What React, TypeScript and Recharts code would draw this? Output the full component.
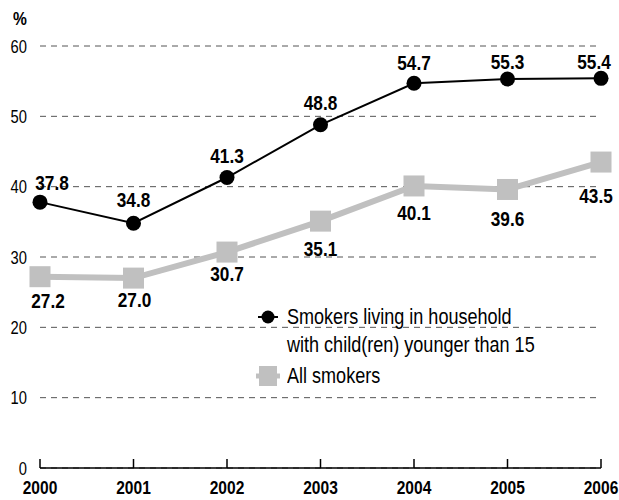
import React from 'react';
import { LineChart, Line, XAxis, YAxis, CartesianGrid, Legend, LabelList } from 'recharts';

const years = ['2000', '2001', '2002', '2003', '2004', '2005', '2006'];
const withChildren = [37.8, 34.8, 41.3, 48.8, 54.7, 55.3, 55.4];
const allSmokers = [27.2, 27.0, 30.7, 35.1, 40.1, 39.6, 43.5];
const yTicks = [0, 10, 20, 30, 40, 50, 60];

const seriesNames = {
  withChildren: 'Smokers living in household with child(ren) younger than 15',
  allSmokers: 'All smokers',
};

const data = years.map((y, i) => ({ year: y, withChildren: withChildren[i], allSmokers: allSmokers[i] }));

const FONT = "'Liberation Sans',Arial,sans-serif";
const NARROW = 0.82;
const GREY = '#c0c0c0';

// label placement tweaks (style, not data)
const s1Dx = [12, 0, 0, 0, 0, 0, -7];
const s1Up = [19, 23, 22, 22, 20, 17.5, 16.5];
const s2Dx = [8, 1, 0, 0, 0, 0, -5];
const s2Down = [24, 22, 22, 28, 27, 29, 34];

const NText = (p: any) => {
  const { x, y, size, bold, anchor, children } = p;
  return (
    <text transform={`translate(${x},${y}) scale(${NARROW},1)`} textAnchor={anchor || 'middle'}
      dominantBaseline="central" fontFamily={FONT} fontWeight={bold ? 'bold' : 'normal'} fontSize={size} fill="#000">
      {children}
    </text>
  );
};

const S1Label = (p: any) => {
  const { x, y, value, index } = p;
  return <NText x={x + s1Dx[index]} y={y - s1Up[index]} size={21} bold>{Number(value).toFixed(1)}</NText>;
};

const S2Label = (p: any) => {
  const { x, y, value, index } = p;
  return <NText x={x + s2Dx[index]} y={y + s2Down[index]} size={21} bold>{Number(value).toFixed(1)}</NText>;
};

const SquareDot = (p: any) => {
  const { cx, cy, index } = p;
  if (cx == null || cy == null) return <g key={`sq-${index}`} />;
  return <rect key={`sq-${index}`} x={cx - 10.5} y={cy - 10.5} width={21} height={21} fill={GREY} />;
};

const XTick = (p: any) => {
  const { x, y, payload } = p;
  return (
    <g>
      <line x1={x} x2={x} y1={y} y2={y - 9} stroke="#000" strokeWidth={1.5} />
      <NText x={x} y={y + 19} size={19} bold>{payload.value}</NText>
    </g>
  );
};

const YTick = (p: any) => {
  const { x, y, payload } = p;
  return <NText x={x} y={y} size={18} anchor="end">{payload.value}</NText>;
};

const LegendBox = () => (
  <div style={{ position: 'relative', width: 340, height: 95, fontFamily: FONT, fontSize: 22, color: '#000' }}>
    <svg style={{ position: 'absolute', left: 8, top: 9 }} width={20} height={16}>
      <line x1={0} x2={20} y1={8} y2={8} stroke="#000" strokeWidth={2} />
      <circle cx={10} cy={8} r={6.5} fill="#000" />
    </svg>
    <div style={{ position: 'absolute', left: 37, top: 3, lineHeight: '28px', whiteSpace: 'nowrap',
      transform: `scaleX(${NARROW})`, transformOrigin: '0 0' }}>
      Smokers living in household<br />with child(ren) younger than 15
    </div>
    <svg style={{ position: 'absolute', left: 6, top: 65 }} width={24} height={22}>
      <line x1={0} x2={24} y1={11} y2={11} stroke={GREY} strokeWidth={5} />
      <rect x={3} y={1} width={18} height={20} fill={GREY} />
    </svg>
    <div style={{ position: 'absolute', left: 37, top: 62, lineHeight: '28px', whiteSpace: 'nowrap',
      transform: `scaleX(${NARROW})`, transformOrigin: '0 0' }}>
      All smokers
    </div>
  </div>
);

export default function App() {
  return (
    <div style={{ position: 'absolute', left: 0, top: 0, width: 619, height: 500, background: '#fff' }}>
      <div style={{ position: 'absolute', left: 13, top: 7, fontFamily: FONT, fontWeight: 'bold', fontSize: 19,
        lineHeight: '24px', transform: `scaleX(${NARROW})`, transformOrigin: '0 0' }}>%</div>
      <LineChart width={619} height={500} data={data} margin={{ top: 46, right: 18, left: 0, bottom: 2 }}>
        <CartesianGrid horizontal vertical={false} stroke="#555" strokeDasharray="6 5" />
        <XAxis dataKey="year" height={30} axisLine={{ stroke: '#000', strokeWidth: 1.5 }} tickLine={false}
          tickSize={0} tickMargin={0} tick={<XTick />} interval={0} />
        <YAxis domain={[0, 60]} ticks={yTicks} width={40} axisLine={false} tickLine={false} tickSize={0}
          tickMargin={13} interval={0} tick={<YTick />} />
        <Legend verticalAlign="middle" align="center" layout="horizontal"
          wrapperStyle={{ left: 250, top: 300, width: 340 }} content={() => <LegendBox />} />
        <Line dataKey="allSmokers" name={seriesNames.allSmokers} stroke={GREY} strokeWidth={6}
          dot={<SquareDot />} activeDot={false} isAnimationActive={false}>
          <LabelList dataKey="allSmokers" content={<S2Label />} />
        </Line>
        <Line dataKey="withChildren" name={seriesNames.withChildren} stroke="#000" strokeWidth={2}
          dot={{ r: 7.5, fill: '#000', stroke: '#000', strokeWidth: 0 }} activeDot={false} isAnimationActive={false}>
          <LabelList dataKey="withChildren" content={<S1Label />} />
        </Line>
      </LineChart>
    </div>
  );
}
